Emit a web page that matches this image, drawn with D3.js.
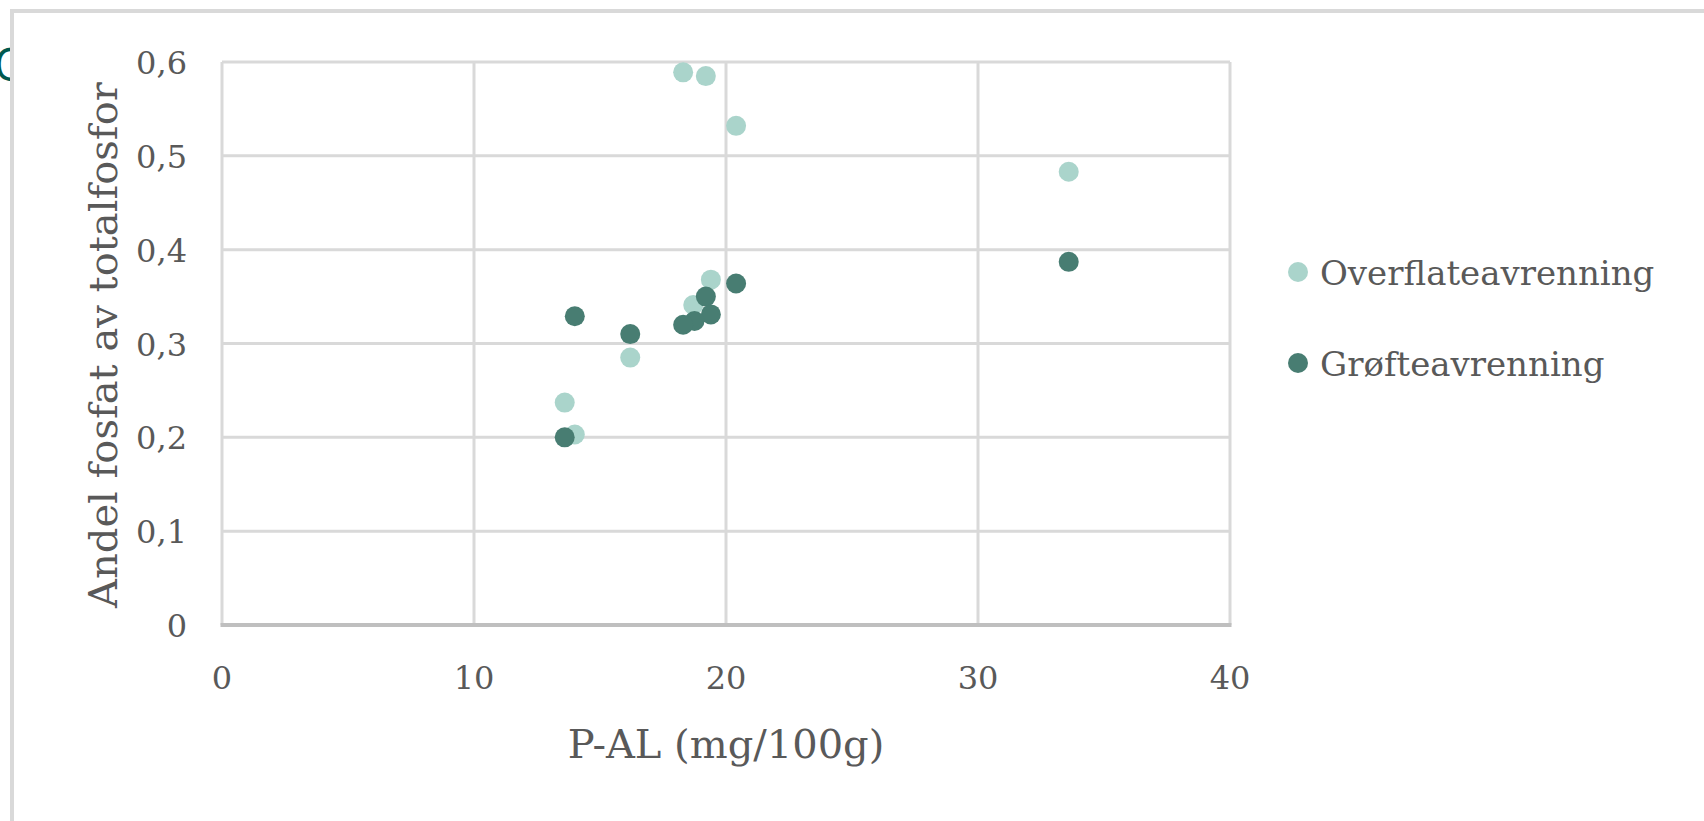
<!DOCTYPE html>
<html>
<head>
<meta charset="utf-8">
<script src="https://cdn.jsdelivr.net/npm/d3@7"></script>
<style>
  html, body { margin: 0; padding: 0; background: #fff; overflow: hidden; }
  text { font-family: "DejaVu Serif", Georgia, serif; fill: #595959; }
</style>
</head>
<body>
<div id="chart"></div>
<script>
// P-AL values (x) and share of phosphate (y)
var overflateX = [18.3, 19.2, 20.4, 33.6, 19.4, 18.7, 16.2, 13.6, 14.0];
var overflateY = [0.589, 0.585, 0.532, 0.483, 0.368, 0.341, 0.285, 0.237, 0.203];
var grofteX = [14.0, 16.2, 20.4, 19.2, 19.4, 18.75, 18.3, 13.6, 33.6];
var grofteY = [0.329, 0.310, 0.364, 0.350, 0.331, 0.324, 0.320, 0.200, 0.387];
var xTicks = [0, 10, 20, 30, 40];
var yTicks = [0, 0.1, 0.2, 0.3, 0.4, 0.5, 0.6];
var seriesNames = ["Overflateavrenning", "Grøfteavrenning"];
var seriesColors = ["#aad4cb", "#487d72"];

function draw(){
    var W = 1704, H = 821;
    var margin = {top: 62, right: 474, bottom: 196, left: 222},
        width = W - margin.left - margin.right,
        height = H - margin.top - margin.bottom;

    var root = d3.select("#chart").append("svg")
        .attr("width", W)
        .attr("height", H);

    // cut-off heading glyph at far left, behind the chart frame
    root.append("text")
        .attr("x", -6).attr("y", 81)
        .style("font-family", "'Open Sans', sans-serif")
        .style("font-size", "45px")
        .style("fill", "#00594f")
        .text("O");

    root.append("rect")
        .attr("x", 12).attr("y", 11)
        .attr("width", 1800).attr("height", 900)
        .attr("fill", "#fff")
        .attr("stroke", "#d9d9d9")
        .attr("stroke-width", 4);

    var svg = root.append("g")
        .attr("transform", "translate(" + margin.left + "," + margin.top + ")");

    var x = d3.scaleLinear().domain([0, 40]).range([0, width]);
    var y = d3.scaleLinear().domain([0, 0.6]).range([height, 0]);

    // gridlines
    svg.append("g").selectAll("line.h")
        .data(yTicks.filter(function(d){ return d > 0; }))
        .enter().append("line")
            .attr("x1", 0).attr("x2", width)
            .attr("y1", function(d){ return y(d); })
            .attr("y2", function(d){ return y(d); })
            .attr("stroke", "#d9d9d9")
            .attr("stroke-width", 3);
    svg.append("g").selectAll("line.v")
        .data(xTicks)
        .enter().append("line")
            .attr("x1", function(d){ return x(d); })
            .attr("x2", function(d){ return x(d); })
            .attr("y1", 0).attr("y2", height)
            .attr("stroke", "#d9d9d9")
            .attr("stroke-width", 3);

    // x axis line
    svg.append("line")
        .attr("x1", -1.5).attr("x2", width + 1.5)
        .attr("y1", height).attr("y2", height)
        .attr("stroke", "#bfbfbf")
        .attr("stroke-width", 4);

    var fmt = function(d){ return d === 0 ? "0" : d3.format(".1f")(d).replace(".", ","); };

    // Y tick labels
    svg.append("g").selectAll("text")
        .data(yTicks)
        .enter().append("text")
            .attr("x", -35)
            .attr("y", function(d){ return y(d) + 12; })
            .attr("text-anchor", "end")
            .style("font-size", "32px")
            .text(fmt);

    // X tick labels
    svg.append("g").selectAll("text")
        .data(xTicks)
        .enter().append("text")
            .attr("x", function(d){ return x(d); })
            .attr("y", height + 64)
            .attr("text-anchor", "middle")
            .style("font-size", "32px")
            .text(function(d){ return d; });

    // axis titles
    svg.append("text")
        .attr("x", width / 2)
        .attr("y", height + 133)
        .attr("text-anchor", "middle")
        .style("font-size", "40px")
        .text("P-AL (mg/100g)");
    svg.append("text")
        .attr("transform", "translate(" + (117 - margin.left) + "," + (345 - margin.top) + ") rotate(-90)")
        .attr("text-anchor", "middle")
        .style("font-size", "40px")
        .text("Andel fosfat av totalfosfor");

    // points: light series first, dark on top
    var series = [
        {name: seriesNames[0], xs: overflateX, ys: overflateY, color: seriesColors[0]},
        {name: seriesNames[1], xs: grofteX, ys: grofteY, color: seriesColors[1]}
    ];
    series.forEach(function(s){
        svg.append("g").selectAll("circle")
            .data(s.xs.map(function(v, i){ return {x: v, y: s.ys[i]}; }))
            .enter().append("circle")
                .attr("cx", function(d){ return x(d.x); })
                .attr("cy", function(d){ return y(d.y); })
                .attr("r", 10)
                .attr("fill", s.color);
    });

    // legend
    var legend = root.append("g").attr("transform", "translate(1298,272)");
    series.forEach(function(s, i){
        var g = legend.append("g").attr("transform", "translate(0," + (i * 91) + ")");
        g.append("circle").attr("r", 10).attr("fill", s.color);
        g.append("text")
            .attr("x", 22).attr("y", 13)
            .style("font-size", "34px")
            .text(s.name);
    });
}
draw();
</script>
</body>
</html>
